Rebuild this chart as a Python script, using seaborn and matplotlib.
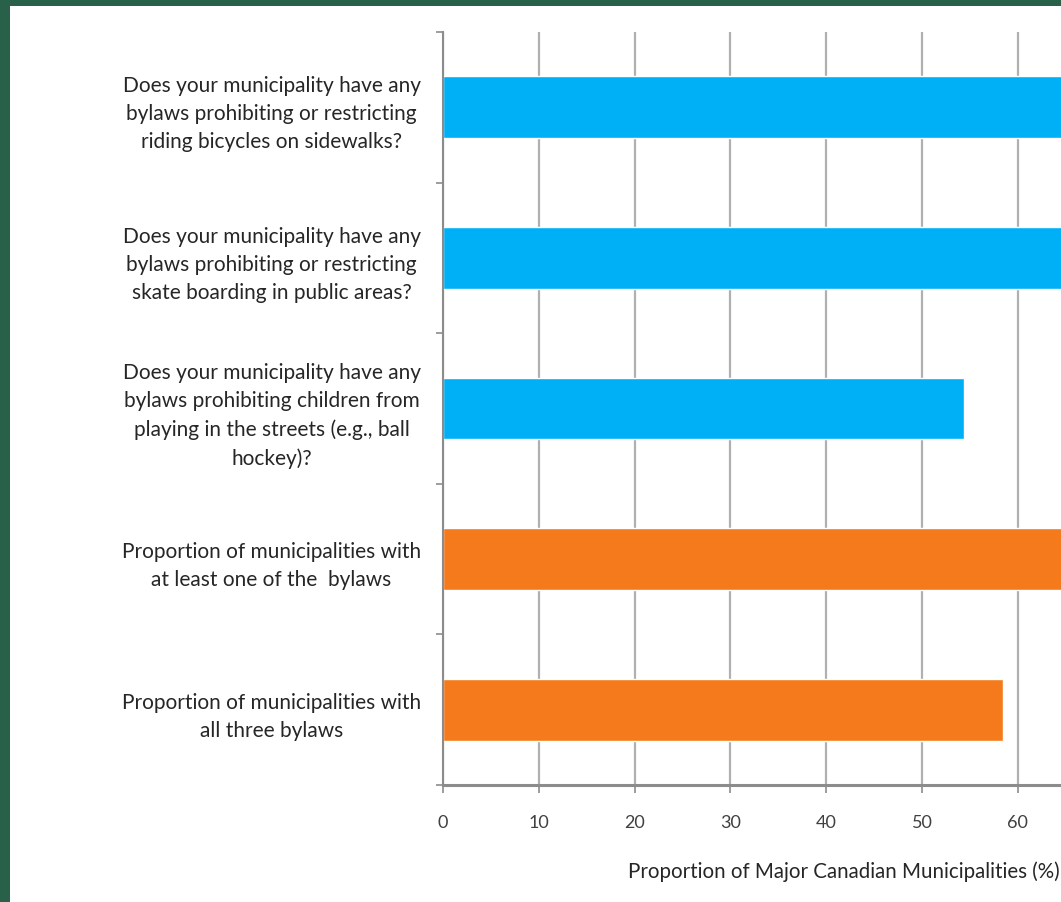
import matplotlib.pyplot as plt
import matplotlib.patches as mpatches
import pandas as pd
import seaborn as sns

# Data (bars that run off the right edge are estimates)
questions = [
    "Does your municipality have any\nbylaws prohibiting or restricting\nriding bicycles on sidewalks?",
    "Does your municipality have any\nbylaws prohibiting or restricting\nskate boarding in public areas?",
    "Does your municipality have any\nbylaws prohibiting children from\nplaying in the streets (e.g., ball\nhockey)?",
    "Proportion of municipalities with\nat least one of the  bylaws",
    "Proportion of municipalities with\nall three bylaws",
]
values = [75.0, 70.8, 54.4, 91.7, 58.5]
groups = ["bylaw", "bylaw", "bylaw", "summary", "summary"]
group_colors = {"bylaw": "#00b0f6", "summary": "#f57a1c"}
x_ticks = [0, 10, 20, 30, 40, 50, 60, 70, 80, 90, 100]

df = pd.DataFrame({"question": questions, "value": values, "group": groups})

sns.set_style("white")
plt.rcParams["font.family"] = ["Lato", "DejaVu Sans"]

fig = plt.figure(figsize=(10.61, 9.03), dpi=100)
fig.patch.set_facecolor("#28604a")
# white slide panel
fig.patches.append(mpatches.Rectangle((10 / 1061, 0), 1, (903 - 7) / 903,
                                      transform=fig.transFigure, facecolor="white",
                                      edgecolor="none", zorder=-5))

# axes runs off the right side of the picture
ax = fig.add_axes([443 / 1061, 117 / 903, 958 / 1061, 753 / 903])
ax.set_facecolor("none")

sns.barplot(data=df, y="question", x="value", hue="group", palette=group_colors,
            orient="h", width=0.41, dodge=False, legend=False, saturation=1,
            ax=ax, zorder=3)

ax.set_xlim(0, 100)
ax.set_ylim(4.5, -0.5)
ax.set_xticks(x_ticks)
ax.set_xticklabels([str(t) if t <= 60 else "" for t in x_ticks])
ax.tick_params(axis="x", bottom=True, direction="out", length=6, width=1.2,
               color="#8c8c8c", labelsize=13, labelcolor="#404040", pad=15)
ax.xaxis.grid(True, color="#b0b0b0", linewidth=1.6, zorder=1)
ax.yaxis.grid(False)

ax.set_yticks(range(len(questions)))
ax.set_yticklabels(questions, ha="right", multialignment="center")
ax.tick_params(axis="y", which="major", length=0, pad=16, labelsize=15,
               labelcolor="#262626")
ax.set_yticks([i - 0.5 for i in range(len(questions) + 1)], minor=True)
ax.tick_params(axis="y", which="minor", left=True, direction="out", length=5,
               width=1.2, color="#8c8c8c")
for lbl in ax.get_yticklabels():
    lbl.set_linespacing(1.5)

for side in ["top", "right"]:
    ax.spines[side].set_visible(False)
ax.spines["left"].set_color("#8c8c8c")
ax.spines["left"].set_linewidth(1.5)
ax.spines["bottom"].set_color("#8c8c8c")
ax.spines["bottom"].set_linewidth(2.2)
ax.spines["left"].set_zorder(4)

ax.set_ylabel("")
ax.set_xlabel("Proportion of Major Canadian Municipalities (%)", fontsize=14.8,
              color="#262626", ha="left")
ax.xaxis.set_label_coords((628 - 443) / 958, -0.1)

fig.savefig("out.png", dpi=100, facecolor=fig.get_facecolor())
